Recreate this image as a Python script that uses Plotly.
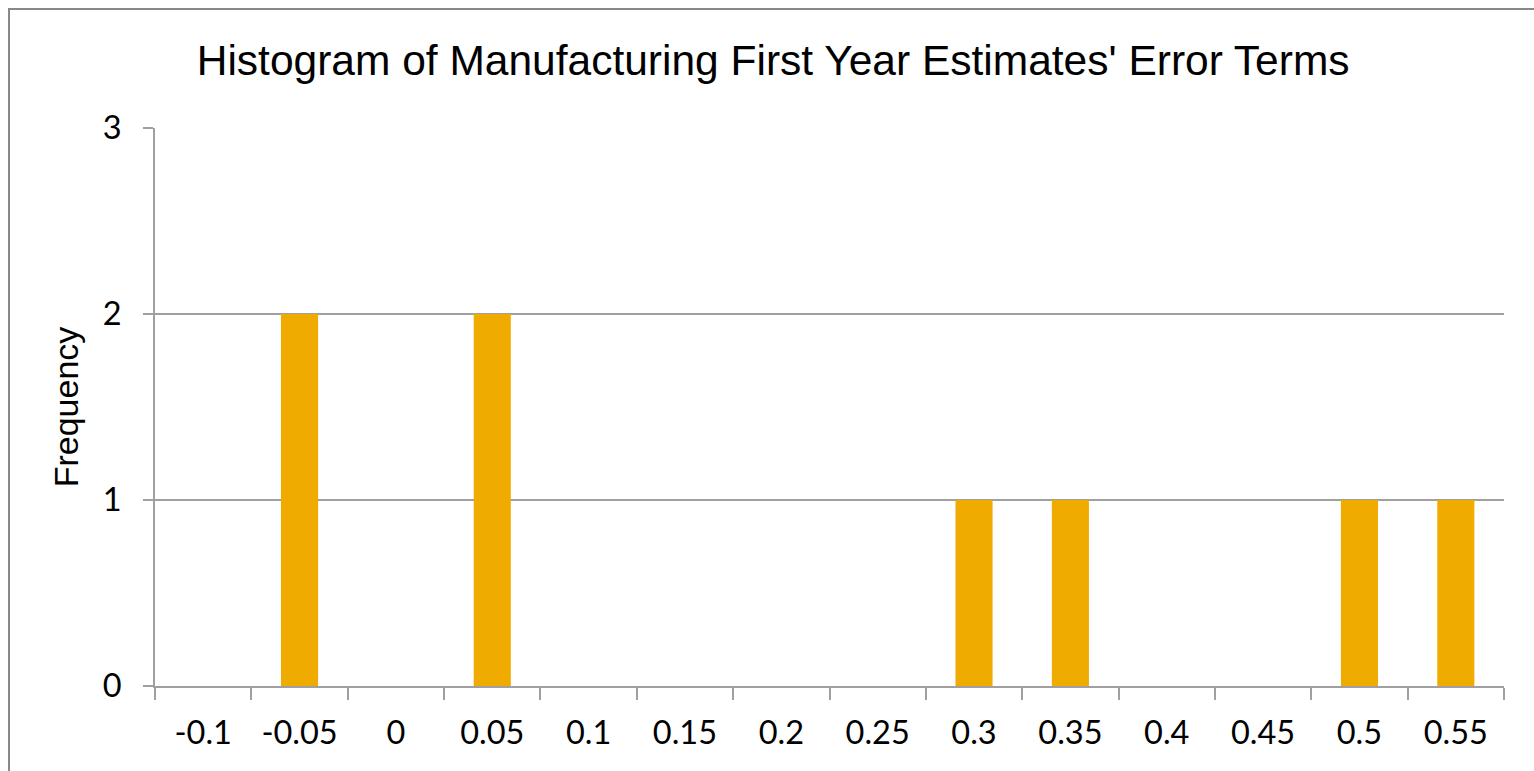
import plotly.graph_objects as go

categories = ["-0.1", "-0.05", "0", "0.05", "0.1", "0.15", "0.2", "0.25",
              "0.3", "0.35", "0.4", "0.45", "0.5", "0.55"]
frequency = [0, 2, 0, 2, 0, 0, 0, 0, 1, 1, 0, 0, 1, 1]
y_ticks = [0, 1, 2, 3]

W, H = 1534, 771
L, R, T, B = 155, 30, 128, 85

fig = go.Figure(go.Bar(x=categories, y=frequency, marker=dict(color="#F0AB00", line=dict(width=0)),
                       hoverinfo="x+y"))

pw = W - L - R
ph = H - T - B
def px_to_paper_x(px):
    return (px - L) / pw
def px_to_paper_y(py):
    return (H - B - py) / ph

fig.update_layout(
    width=W, height=H,
    margin=dict(l=L, r=R, t=T, b=B),
    paper_bgcolor="white", plot_bgcolor="white",
    bargap=0.615,
    showlegend=False,
    title=dict(text="Histogram of Manufacturing First Year Estimates' Error Terms",
               x=0.504, xanchor="center", y=1 - 60 / H, yanchor="middle",
               font=dict(family="Liberation Sans, Arial", size=42.5, color="#000000")),
    font=dict(family="Lato, Calibri, sans-serif", color="#000000"),
    xaxis=dict(type="category", tickson="boundaries", ticks="outside", ticklen=12,
               tickcolor="#A0A0A0", tickwidth=2, showline=True, linecolor="#A0A0A0", linewidth=2,
               showgrid=False, tickfont=dict(size=32.5, family="Lato, Calibri, sans-serif"),
               ticklabelstandoff=17),
    yaxis=dict(range=[0, 3], tickvals=y_ticks, ticks="outside", ticklen=10, tickcolor="#A0A0A0",
               tickwidth=2, showline=True, linecolor="#A0A0A0", linewidth=2,
               showgrid=True, gridcolor="#A0A0A0", gridwidth=1.5, zeroline=False,
               tickfont=dict(size=32.5, family="Lato, Calibri, sans-serif"),
               ticklabelstandoff=15,
               title=dict(text="Frequency", font=dict(family="Liberation Sans, Arial", size=34),
                          standoff=14)),
)

fig.add_shape(type="rect", xref="paper", yref="paper",
              x0=px_to_paper_x(9), x1=px_to_paper_x(W + 20),
              y0=px_to_paper_y(H + 20), y1=px_to_paper_y(9),
              line=dict(color="#888888", width=2), fillcolor="rgba(0,0,0,0)", layer="below")

fig.write_html("out.html")
